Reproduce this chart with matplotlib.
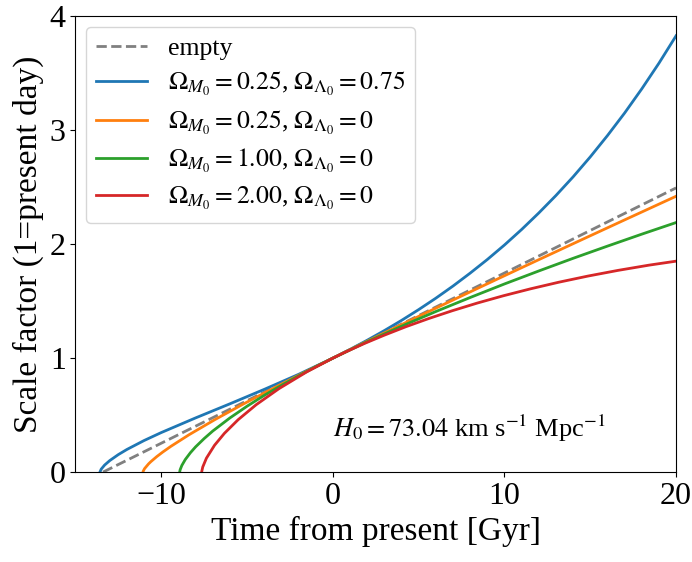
import matplotlib
matplotlib.use("Agg")
import matplotlib.pyplot as plt

plt.rcParams['font.family'] = ['Liberation Serif', 'DejaVu Serif']
plt.rcParams['mathtext.fontset'] = 'stix'

# values (time from present in Gyr, scale factor)
t_empty = [-13.39, 20.0]
a_empty = [0.0, 2.494]

t_lcdm = [-13.572, -13.5, -13.3, -13.0, -12.5, -12.0, -11.0, -10.0, -8.0, -6.0,
          -4.0, -2.0, 0.0, 1.0, 2.0, 3.0, 4.0, 5.0, 6.0, 7.0, 8.0, 9.0, 10.0,
          11.0, 12.0, 13.0, 14.0, 15.0, 16.0, 17.0, 18.0, 19.0, 20.0]
a_lcdm = [0.0, 0.0253, 0.0615, 0.1009, 0.1535, 0.1985, 0.2768, 0.3467, 0.4753, 0.5990,
          0.7257, 0.8575, 1.0, 1.0766, 1.157, 1.2417, 1.331, 1.4258, 1.526, 1.6325,
          1.746, 1.8655, 1.993, 2.129, 2.274, 2.4274, 2.591, 2.7662, 2.953, 3.151,
          3.363, 3.5882, 3.829]

t_open = [-11.063, -11.051, -10.969, -10.737, -10.612, -10.266, -9.906, -9.442, -8.383,
          -6.872, -5.248, -3.164, -1.917, 0.0, 1.062, 2.828, 3.789, 4.806, 5.881,
          7.017, 8.218, 9.487, 10.827, 12.242, 13.736, 15.313, 16.977, 18.734, 20.584]
a_open = [0.0, 0.0076, 0.0309, 0.0722, 0.0905, 0.1351, 0.1764, 0.2254, 0.3274,
          0.4604, 0.5947, 0.7595, 0.8554, 1.0, 1.0789, 1.2088, 1.2788, 1.3524, 1.4299,
          1.5113, 1.5969, 1.6869, 1.7816, 1.8811, 1.9858, 2.0958, 2.2115, 2.3331, 2.461]

t_eds = [-8.925, -8.9, -8.8, -8.6, -8.3, -8.0, -7.5, -7.0, -6.0, -5.0, -4.0, -3.0,
         -2.0, -1.0, 0.0, 2.0, 4.0, 6.0, 8.0, 10.0, 12.0, 14.0, 16.0, 18.0, 20.0]
a_eds = [0.0, 0.0199, 0.058, 0.110, 0.170, 0.221, 0.294, 0.360, 0.475, 0.578, 0.673, 0.761,
         0.844, 0.924, 1.0, 1.144, 1.280, 1.409, 1.532, 1.651, 1.765, 1.876, 1.983, 2.088, 2.190]

t_closed = [-7.641, -7.639, -7.581, -7.366, -6.895, -6.320, -5.519, -4.465, -3.137,
            -1.520, 0.0, 0.745, 1.841, 3.010, 4.254, 5.573, 6.960, 8.418, 9.937,
            11.520, 13.166, 14.867, 16.619, 18.420, 20.264]
a_closed = [0.0, 0.005, 0.0447, 0.1224, 0.2352, 0.340, 0.4597, 0.5915, 0.7325,
            0.8795, 1.0, 1.0542, 1.1288, 1.2022, 1.2756, 1.3468, 1.4161, 1.4834, 1.5474,
            1.6083, 1.6663, 1.7203, 1.7702, 1.8160, 1.8569]

labels = ['empty',
          r'$\Omega_{M_0}=0.25$, $\Omega_{\Lambda_0}=0.75$',
          r'$\Omega_{M_0}=0.25$, $\Omega_{\Lambda_0}=0$',
          r'$\Omega_{M_0}=1.00$, $\Omega_{\Lambda_0}=0$',
          r'$\Omega_{M_0}=2.00$, $\Omega_{\Lambda_0}=0$']

fig = plt.figure(figsize=(6.92, 5.62), dpi=100)
ax = fig.add_axes([0.109, 0.160, 0.868, 0.811])

ax.plot(t_empty, a_empty, '--', color='gray', lw=2, label=labels[0])
ax.plot(t_lcdm, a_lcdm, color='tab:blue', lw=2, label=labels[1])
ax.plot(t_open, a_open, color='tab:orange', lw=2, label=labels[2])
ax.plot(t_eds, a_eds, color='tab:green', lw=2, label=labels[3])
ax.plot(t_closed, a_closed, color='tab:red', lw=2, label=labels[4])

ax.set_xlim(-15, 20)
ax.set_ylim(0, 4)
ax.set_xticks([-10, 0, 10, 20])
ax.set_yticks([0, 1, 2, 3, 4])
ax.tick_params(labelsize=23)
ax.set_xlabel('Time from present [Gyr]', fontsize=24)
ax.set_ylabel('Scale factor (1=present day)', fontsize=24)

ax.text(0.0, 0.38, r'$H_0 = 73.04$ km s$^{-1}$ Mpc$^{-1}$', fontsize=19, va='center')

ax.legend(loc='upper left', fontsize=18.5, handlelength=2.0, borderaxespad=0.4,
          labelspacing=0.4)

plt.savefig('out.png')
